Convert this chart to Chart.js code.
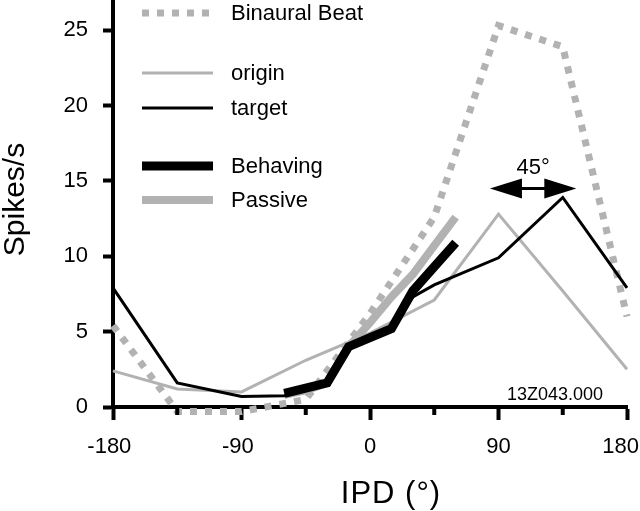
<!DOCTYPE html>
<html>
<head>
<meta charset="utf-8">
<script src="https://cdn.jsdelivr.net/npm/chart.js@4.4.0/dist/chart.umd.min.js"></script>
<style>
  html, body { margin: 0; padding: 0; background: #fff; }
  #wrap { width: 640px; height: 511px; position: relative; }
</style>
</head>
<body>
<div id="wrap"><canvas id="ipd-chart"></canvas></div>
<script>
// IPD tuning curves, spikes/s
const ipdCoarse = [-180, -135, -90, -45, 0, 45, 90, 135, 180];
const binauralBeat = [5.4, -0.3, -0.3, 0.5, 6.2, 12.6, 25.3, 23.9, 6.0];
const origin = [2.4, 1.2, 1.0, 3.1, 4.9, 7.1, 12.8, 7.7, 2.5];

const ipdTarget = [-180, -135, -90, -60, -30, -15, 0, 15, 30, 45, 90, 135, 180];
const target = [7.9, 1.6, 0.7, 0.75, 1.6, 4.0, 4.6, 5.2, 7.3, 8.1, 9.9, 13.9, 7.9];

const ipdFine = [-60, -45, -30, -15, 0, 15, 30, 45, 60];
const behaving = [0.9, 1.25, 1.6, 4.0, 4.6, 5.2, 7.7, 9.3, 10.9];
const passive = [0.8, 1.1, 1.6, 4.0, 5.6, 7.3, 8.8, 10.7, 12.6];

const xTicks = [-180, -90, 0, 90, 180];
const xMinorTicks = [-135, -45, 45, 135];
const yTicks = [0, 5, 10, 15, 20, 25];

const GRAY = '#b2b2b2';
const FONT = "'Liberation Sans', Arial, Helvetica, sans-serif";

Chart.defaults.font.family = FONT;
Chart.defaults.font.size = 22;
Chart.defaults.color = '#000';

function pts(xs, ys) {
    return xs.map((x, i) => ({x: x, y: ys[i]}));
}

// legend rows: dataset index + vertical offset from top of plot
const legendRows = [
    {ds: 0, dy: 13},
    {ds: 1, dy: 73},
    {ds: 2, dy: 108},
    {ds: 3, dy: 166},
    {ds: 4, dy: 200}
];

const extras = {
    id: 'extras',
    afterDraw(chart) {
        const ctx = chart.ctx;
        const area = chart.chartArea;
        const xs = chart.scales.x;
        const ys = chart.scales.y;
        const W = chart.width;
        ctx.save();

        // minor x ticks
        ctx.strokeStyle = '#000';
        ctx.lineWidth = 4;
        xMinorTicks.forEach(v => {
            const px = xs.getPixelForValue(v);
            ctx.beginPath();
            ctx.moveTo(px, area.bottom);
            ctx.lineTo(px, area.bottom + 8);
            ctx.stroke();
        });

        // x tick labels: digits centred on the tick, minus sign hangs left
        ctx.font = '22px ' + FONT;
        ctx.fillStyle = '#000';
        ctx.textBaseline = 'alphabetic';
        ctx.textAlign = 'left';
        xTicks.forEach(v => {
            const px = xs.getPixelForValue(v);
            const digits = String(Math.abs(v));
            const dw = ctx.measureText(digits).width;
            let left = px - dw / 2;
            if (left + dw > W - 1) left = W - 1 - dw;
            ctx.fillText(digits, left, area.bottom + 46);
            if (v < 0) {
                ctx.textAlign = 'right';
                ctx.fillText('-', left, area.bottom + 46);
                ctx.textAlign = 'left';
            }
        });

        // legend
        ctx.textBaseline = 'middle';
        legendRows.forEach(row => {
            const ds = chart.data.datasets[row.ds];
            const yy = area.top + row.dy;
            ctx.save();
            ctx.strokeStyle = ds.borderColor;
            ctx.lineWidth = ds.borderWidth;
            ctx.setLineDash(ds.borderDash || []);
            ctx.beginPath();
            ctx.moveTo(area.left + 29, yy);
            ctx.lineTo(area.left + 100, yy);
            ctx.stroke();
            ctx.restore();
            ctx.fillText(ds.label, area.left + 118, yy + 1);
        });

        // 45 degree shift arrow
        const ax1 = xs.getPixelForValue(84);
        const ax2 = xs.getPixelForValue(144.5);
        const ay = ys.getPixelForValue(14.5);
        ctx.lineWidth = 3;
        ctx.beginPath();
        ctx.moveTo(ax1 + 20, ay);
        ctx.lineTo(ax2 - 20, ay);
        ctx.stroke();
        ctx.beginPath();
        ctx.moveTo(ax1, ay);
        ctx.lineTo(ax1 + 32, ay - 10);
        ctx.lineTo(ax1 + 32, ay + 10);
        ctx.closePath();
        ctx.fill();
        ctx.beginPath();
        ctx.moveTo(ax2, ay);
        ctx.lineTo(ax2 - 32, ay - 10);
        ctx.lineTo(ax2 - 32, ay + 10);
        ctx.closePath();
        ctx.fill();
        ctx.textAlign = 'center';
        ctx.textBaseline = 'alphabetic';
        ctx.fillText('45°', (ax1 + ax2) / 2, ay - 14);

        // unit id
        ctx.font = '18px ' + FONT;
        ctx.textAlign = 'right';
        ctx.fillText('13Z043.000', area.right - 24, area.bottom - 7);

        // axis titles
        ctx.font = '31px ' + FONT;
        ctx.textAlign = 'center';
        ctx.letterSpacing = '1px';
        ctx.fillText('IPD (°)', 391, 503);
        ctx.letterSpacing = '0px';
        ctx.font = '30px ' + FONT;
        ctx.save();
        ctx.translate(24, (area.top + area.bottom) / 2 - 4);
        ctx.rotate(-Math.PI / 2);
        ctx.fillText('Spikes/s', 0, 0);
        ctx.restore();

        ctx.restore();
    }
};

new Chart(document.getElementById('ipd-chart'), {
    type: 'line',
    data: {
        datasets: [
            {
                label: 'Binaural Beat',
                data: pts(ipdCoarse, binauralBeat),
                borderColor: GRAY,
                borderWidth: 7,
                borderDash: [7, 8],
                order: 5
            },
            {
                label: 'origin',
                data: pts(ipdCoarse, origin),
                borderColor: GRAY,
                borderWidth: 3,
                order: 4
            },
            {
                label: 'target',
                data: pts(ipdTarget, target),
                borderColor: '#000',
                borderWidth: 3,
                order: 2
            },
            {
                label: 'Behaving',
                data: pts(ipdFine, behaving),
                borderColor: '#000',
                borderWidth: 9,
                order: 1
            },
            {
                label: 'Passive',
                data: pts(ipdFine, passive),
                borderColor: GRAY,
                borderWidth: 8,
                order: 3
            }
        ]
    },
    options: {
        responsive: true,
        maintainAspectRatio: false,
        animation: false,
        clip: false,
        layout: {
            autoPadding: false,
            padding: {top: 0, right: 13, bottom: 0, left: 0}
        },
        elements: {
            point: {radius: 0},
            line: {tension: 0, fill: false}
        },
        plugins: {
            legend: {display: false},
            tooltip: {enabled: false}
        },
        scales: {
            x: {
                type: 'linear',
                min: -180,
                max: 180,
                afterBuildTicks: axis => { axis.ticks = xTicks.map(v => ({value: v})); },
                afterFit: axis => {
                    axis.height = 104;
                    axis.paddingLeft = 0;
                    axis.paddingRight = 0;
                },
                border: {display: true, width: 4, color: '#000'},
                grid: {drawOnChartArea: false, drawTicks: true, tickLength: 13, tickWidth: 4, tickColor: '#000'},
                ticks: {display: false}
            },
            y: {
                type: 'linear',
                min: 0,
                max: 27,
                afterBuildTicks: axis => { axis.ticks = yTicks.map(v => ({value: v})); },
                afterFit: axis => {
                    axis.width = 113;
                    axis.paddingTop = 0;
                    axis.paddingBottom = 0;
                },
                border: {display: true, width: 4, color: '#000'},
                grid: {drawOnChartArea: false, drawTicks: true, tickLength: 10, tickWidth: 4, tickColor: '#000'},
                ticks: {padding: 15, font: {size: 22}}
            }
        }
    },
    plugins: [extras]
});
</script>
</body>
</html>
